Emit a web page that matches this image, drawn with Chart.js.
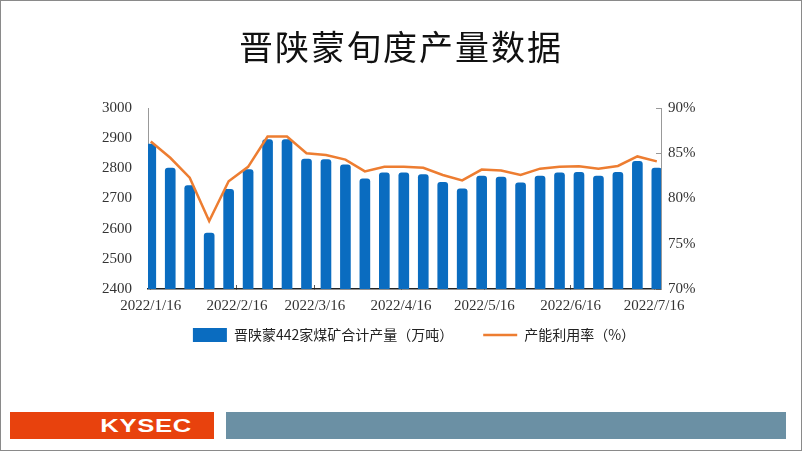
<!DOCTYPE html>
<html>
<head>
<meta charset="utf-8">
<script src="https://cdn.jsdelivr.net/npm/chart.js@4"></script>
<style>
  html, body { margin: 0; padding: 0; background: #fff; }
  #page { position: relative; width: 800px; height: 449px; border: 1px solid #8a8a8a; overflow: hidden; }
  #title { position: absolute; left: 0; top: 22px; width: 800px; text-align: center;
    font-family: "Noto Sans CJK SC", sans-serif; font-size: 34px; letter-spacing: 2px; color: #111; line-height: 46px; }
  #chartWrap { position: absolute; left: -1px; top: -1px; width: 802px; height: 451px; }
  .bar-left { position: absolute; left: 9px; top: 411px; width: 204px; height: 27px; background: #e8420d; }
  .bar-left span { position: absolute; right: 22px; top: 0; line-height: 27px; color: #fff;
    font-family: "Liberation Sans", Arial, sans-serif; font-weight: bold; font-size: 19px; letter-spacing: 0.5px;
    transform: scaleX(1.35); transform-origin: right center; }
  .bar-right { position: absolute; left: 225px; top: 411px; width: 560px; height: 27px; background: #6b90a4; }
</style>
</head>
<body>
<div id="page">
  <div id="chartWrap"><canvas id="prodChart" width="802" height="451"></canvas></div>
  <div id="title">晋陕蒙旬度产量数据</div>
  <div class="bar-left"><span>KYSEC</span></div>
  <div class="bar-right"></div>
</div>
<script>
// days after 2022/1/16 for each weekly point
const weekDays = [0, 7, 14, 21, 28, 35, 42, 49, 56, 63, 70, 77, 84, 91, 98, 105, 112, 119, 126, 133, 140, 147, 154, 161, 168, 175, 182];
const output = [2880, 2801, 2743, 2585, 2730, 2796, 2895, 2895, 2831, 2829, 2812, 2765, 2785, 2785, 2779, 2754, 2732, 2774, 2771, 2752, 2774, 2785, 2787, 2774, 2787, 2823, 2801];
const utilRate = [86.3, 84.5, 82.3, 77.5, 81.9, 83.5, 86.85, 86.85, 85.0, 84.8, 84.3, 83.0, 83.5, 83.5, 83.4, 82.6, 82.0, 83.2, 83.1, 82.6, 83.3, 83.5, 83.55, 83.3, 83.6, 84.65, 84.1];
const tickDays = [0, 31, 59, 90, 120, 151, 181];
const tickLabels = ['2022/1/16', '2022/2/16', '2022/3/16', '2022/4/16', '2022/5/16', '2022/6/16', '2022/7/16'];

const barLabel = '晋陕蒙442家煤矿合计产量（万吨）';
const lineLabel = '产能利用率（%）';

const axisFont = { family: '"Liberation Serif", "Times New Roman", serif', size: 15 };

// pull the legend row up closer to the axis while keeping wide gaps between items
const legendLift = {
  id: 'legendLift',
  afterLayout(chart) {
    chart.legend.top -= 29;
    chart.legend.bottom -= 29;
  }
};

const canvas = document.getElementById('prodChart');
const ctx = canvas.getContext('2d');

new Chart(ctx, {
  type: 'bar',
  data: {
    datasets: [
      {
        label: barLabel,
        data: weekDays.map((d, i) => ({ x: d, y: output[i] })),
        backgroundColor: '#0a6cc0',
        barThickness: 10,
        borderRadius: { topLeft: 3, topRight: 3 },
        borderSkipped: 'bottom',
        pointStyle: 'rect',
        yAxisID: 'y',
        clip: 0,
        order: 1
      },
      {
        type: 'line',
        label: lineLabel,
        data: weekDays.map((d, i) => ({ x: d, y: utilRate[i] })),
        borderColor: '#ed7d31',
        backgroundColor: '#ed7d31',
        borderWidth: 2.5,
        pointRadius: 0,
        pointStyle: 'line',
        tension: 0,
        yAxisID: 'y1',
        clip: 0,
        order: 0
      }
    ]
  },
  plugins: [legendLift],
  options: {
    responsive: false,
    animation: false,
    layout: { padding: { left: 98, right: 72, top: 108, bottom: 70 } },
    plugins: {
      title: { display: false },
      tooltip: { enabled: false },
      legend: {
        position: 'bottom',
        labels: {
          usePointStyle: true,
          pointStyleWidth: 34,
          boxHeight: 14,
          padding: 30,
          color: '#222',
          font: { family: '"Noto Sans CJK SC", sans-serif', size: 14 },
          sort: (a, b) => a.datasetIndex - b.datasetIndex
        }
      }
    },
    scales: {
      x: {
        type: 'linear',
        min: -1,
        max: 183.5,
        offset: false,
        grid: { display: true, drawOnChartArea: false, drawTicks: true, tickLength: -4, color: '#555', offset: false },
        border: { display: true, color: '#222', width: 1.5 },
        afterBuildTicks: axis => { axis.ticks = tickDays.map(v => ({ value: v })); },
        ticks: {
          autoSkip: false,
          maxRotation: 0,
          padding: 12,
          color: '#333',
          font: axisFont,
          callback: v => tickLabels[tickDays.indexOf(v)]
        }
      },
      y: {
        position: 'left',
        min: 2400,
        max: 3000,
        grid: { display: false, drawTicks: false },
        border: { display: true, color: '#999', width: 1 },
        afterFit: s => { s.width = 50; },
        ticks: { stepSize: 100, padding: 16, color: '#333', font: axisFont, callback: v => String(v) }
      },
      y1: {
        position: 'right',
        min: 70,
        max: 90,
        grid: { display: true, drawOnChartArea: false, drawTicks: true, tickLength: -5, color: '#999' },
        border: { display: true, color: '#999', width: 1 },
        afterFit: s => { s.width = 69; },
        ticks: { stepSize: 5, padding: 12, color: '#333', font: axisFont, callback: v => v + '%' }
      }
    }
  }
});
</script>
</body>
</html>
